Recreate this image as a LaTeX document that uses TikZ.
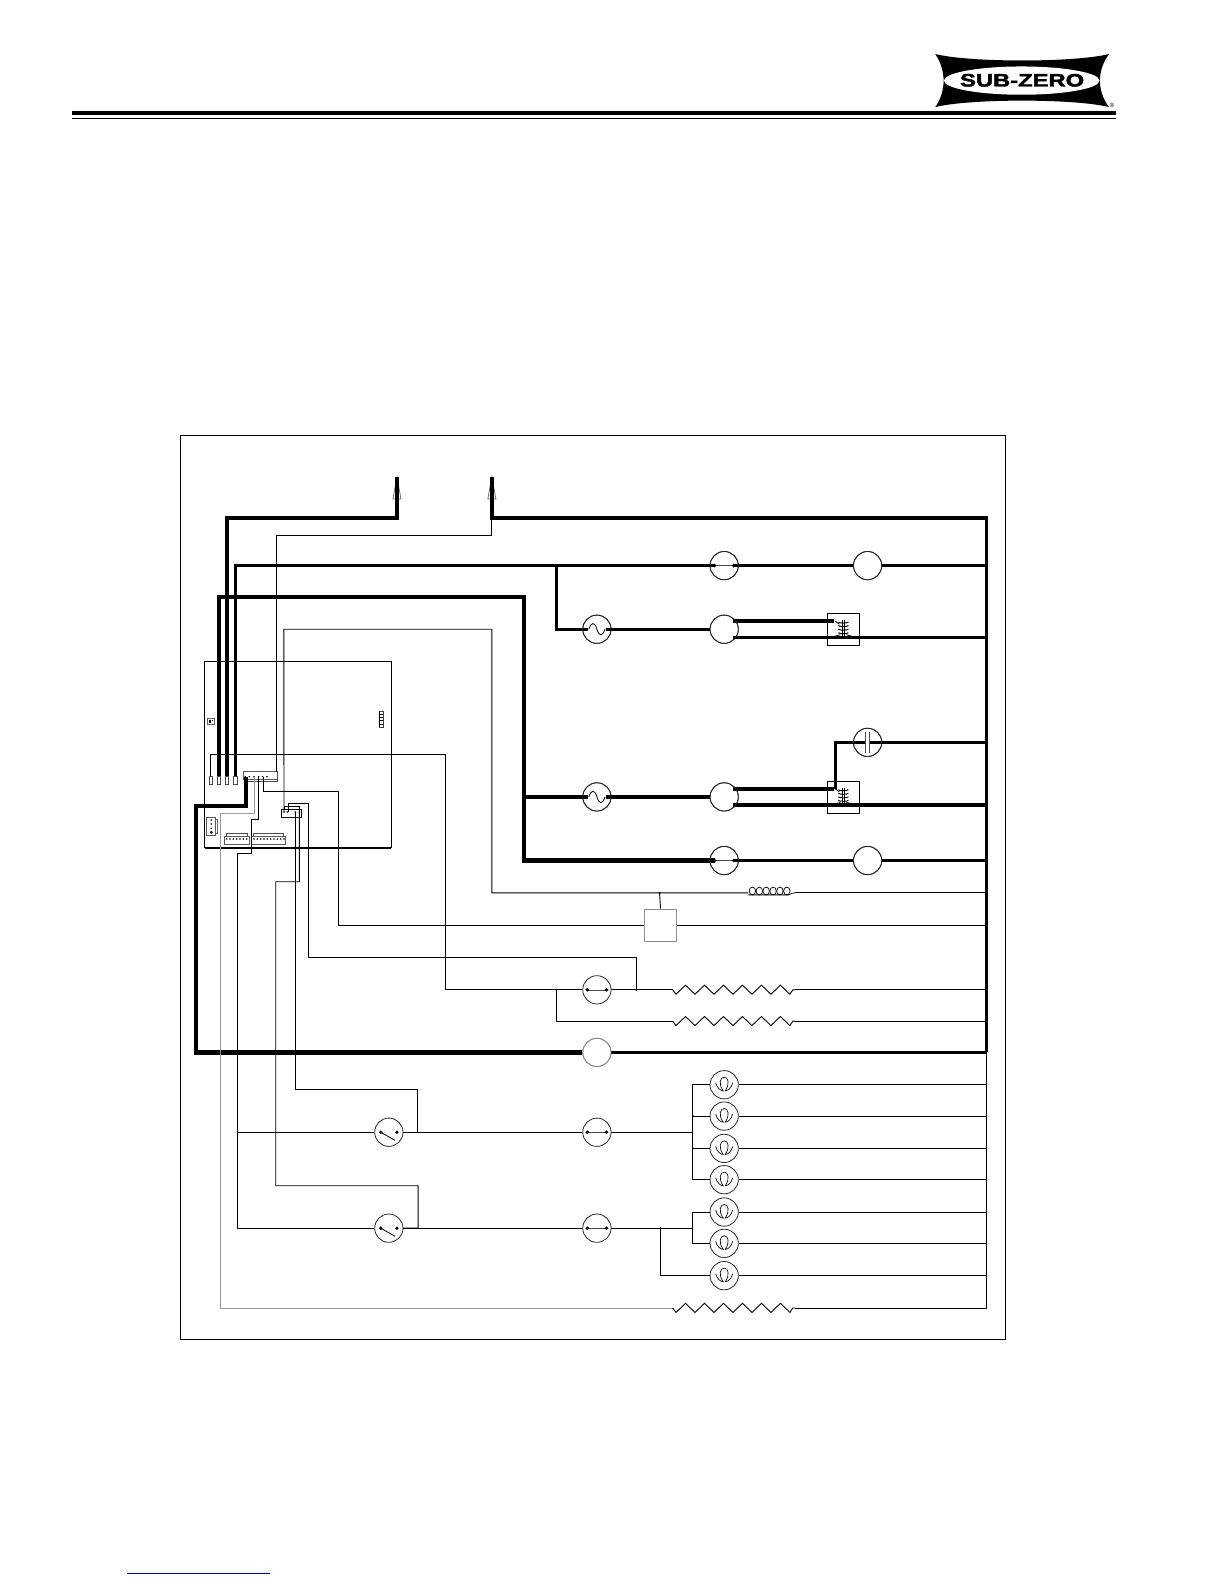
\documentclass[tikz,border=0pt]{standalone}
\usepackage{graphicx}
\usepackage{fontspec}
\setmainfont{Liberation Sans}
\newfontfamily\logofont[BoldFeatures={FakeBold=2}]{Liberation Sans}
\tikzset{
  wire/.style={line width=0.9pt,black,line join=miter},
  heavy/.style={line width=3.4pt,black,line join=miter},
  heavier/.style={line width=4.2pt,black,line join=miter},
  graywire/.style={line width=0.9pt,black!40},
  part/.style={circle,draw=black!85,line width=0.8pt,fill=white,minimum size=28.3pt,inner sep=0pt},
  relaybox/.style={rectangle,draw=black,line width=0.8pt,fill=white,minimum size=32pt,inner sep=0pt},
  termblock/.style={rectangle,draw=black!70,line width=0.7pt,fill=white,minimum width=3.5pt,minimum height=8pt,inner sep=0pt},
  lampsym/.pic={
    \draw[line width=0.65pt] (-8.5,-2) .. controls (-7,3) and (-4,6) .. (-1,6)
      .. controls (-6,-1) and (-4,-7.5) .. (0,-7.5) .. controls (4,-7.5) and (6,-1) .. (1,6)
      .. controls (4,6) and (7,3) .. (8.5,-2);
  },
  dotsym/.pic={
    \draw[line width=0.45pt,black!70] (-9.5,0) -- (9.5,0);
    \fill (-9.5,0) circle[radius=1.9]; \fill (9.5,0) circle[radius=1.9];
  },
  sinesym/.pic={
    \draw[line width=0.8pt] (-8,0) .. controls (-5.5,-7.5) and (-2.2,-7.5) .. (0,0) .. controls (2.2,7.5) and (5.5,7.5) .. (8,0);
  },
  switchsym/.pic={
    \fill (-8,0) circle[radius=1.8]; \fill (8,0) circle[radius=1.8];
    \draw[line width=0.8pt] (-8,0) -- (6,8);
  },
  capsym/.pic={
    \draw[line width=0.7pt,black!70] (-1.9,-10.5) -- (-1.9,10.5);
    \draw[line width=0.7pt,black!70] (1.9,-10.5) -- (1.9,10.5);
  },
  relaysym/.pic={
    \draw[line width=0.9pt] (-1,-9) -- (-1,8);
    \draw[line width=0.9pt] (1,-9) -- (1,8);
    \foreach \yy in {-7,-3.5,0,3.5} {\draw[line width=1pt] (-5,\yy) .. controls (-3,\yy+1.2) and (3,\yy+1.2) .. (5,\yy);}
    \draw[line width=0.9pt] (-7,8.5) -- (7,8.5);
    \draw[line width=0.8pt] (-8,-8) -- (-4,-5);
    \draw[line width=0.8pt] (-9,7) -- (-3,5.5);
    \draw[line width=0.8pt] (9,7) -- (3,5.5);
  },
  zagsym/.pic={
    \draw[line width=0.9pt] (0,0) -- (3.3,4.4) -- (12.7,-4.6) -- (22.1,4.4) -- (31.5,-4.6) -- (40.9,4.4) -- (50.3,-4.6) -- (59.7,4.4) -- (69.1,-4.6) -- (78.5,4.4) -- (87.9,-4.6) -- (97.3,4.4) -- (106.7,-4.6) -- (116.1,4.4) -- (119,0) -- (121,0);
  },
  coilsym/.pic={
    \foreach \k in {0,...,5} {\draw[line width=0.7pt] (4+\k*6.8,-1.8) ellipse[x radius=3.2,y radius=3.9];}
    \draw[line width=0.8pt] (0,2) -- (40,2) -- (43,0.5) -- (46,0);
  },
  plugsym/.pic={
    \draw[black!60,line width=0.7pt] (0,0) -- (-4,22) -- (4,22) -- cycle;
  },
  jdot/.style={circle,fill=black,inner sep=0pt,minimum size=2.2pt},
}
\begin{document}
\begin{tikzpicture}[x=1.01pt,y=-1.01pt]
\useasboundingbox (0,0) rectangle (1211.88,1568.3);

% header rules
\coordinate (ruleL) at (71,112);
\coordinate (ruleR) at (1105,112);
\draw[line width=4pt] (ruleL) -- (ruleR);
\draw[line width=0.9pt] (71,117) -- (1105,117);

% logo
\fill[black] (926,53.5) .. controls (960,62) and (1064,62) .. (1098,53.5)
  .. controls (1086,70) and (1086,90) .. (1098,106)
  .. controls (1064,97.5) and (960,97.5) .. (926,106)
  .. controls (937,90) and (937,70) .. cycle;
\fill[white] (1011.6,79.8) ellipse[x radius=77,y radius=14];
\node[inner sep=0pt,font=\logofont\fontsize{18pt}{18pt}\selectfont\bfseries] (logotext) at (1012,79.5) {\scalebox{1.32}[1]{SUB-ZERO}};
\node[inner sep=0pt,font=\fontsize{6pt}{6pt}\selectfont] (logoreg) at (1101,104) {®};

% frame
\node[rectangle,draw=black,line width=0.8pt,minimum width=825pt,minimum height=904pt,inner sep=0pt,anchor=north west] (frame) at (178.5,430.5) {};

% footer link rule
\draw[blue!75!black,line width=0.8pt] (126,1558) -- (267,1558);

% named parts positions
\coordinate (plugA) at (393,472);
\coordinate (plugB) at (487,472);
\coordinate (busTop) at (977,513);
\coordinate (busMid) at (977,1042);
\coordinate (busEnd) at (977,1295);

\node[part] (m1) at (717,560) {};
\node[part] (m2) at (859,560) {};
\node[part] (s1) at (591,623) {};
\node[part] (m3) at (717,623) {};
\node[relaybox] (r1) at (835,623) {};
\node[part] (cap) at (859,735) {};
\node[part] (s2) at (591,789) {};
\node[part] (m4) at (717,789) {};
\node[relaybox] (r2) at (835,789) {};
\node[part] (m5) at (717,852) {};
\node[part] (m6) at (859,852) {};
\node[part] (d1) at (591,980) {};
\node[part,draw=black!45] (d2) at (591,1042) {};
\node[part] (d3) at (591,1121) {};
\node[part] (d4) at (591,1216) {};
\node[part] (sw1) at (385,1121) {};
\node[part] (sw2) at (385,1216) {};
\foreach \n/\yy in {1/1074,2/1105,3/1137,4/1168,5/1200,6/1231,7/1263} {
  \node[part] (L\n) at (717,\yy) {};
}
\node[rectangle,draw=black!45,line width=1.3pt,fill=white,minimum size=32pt,inner sep=0pt] (ctl) at (654,916) {};

% board details (coordinates as read in a 3x crop)
\begin{scope}[shift={(180pt,-640pt)},x=0.3333pt,y=-0.3333pt]
  \node[termblock] (t1) at (92,420) {};
  \node[termblock] (t2) at (117,420) {};
  \node[termblock] (t3) at (141,420) {};
  \node[termblock] (t4) at (166,420) {};
  \coordinate (pA1) at (198,410);
  \coordinate (pA3) at (224,410);
  \coordinate (pA4) at (236,410);
  \coordinate (pA5) at (250,410);
  \coordinate (pA7) at (288,395);
  \coordinate (pB1) at (312,516);
  \coordinate (pB2) at (325,516);
  \coordinate (pB3) at (347,516);
  \coordinate (pB4) at (358,516);
  \coordinate (zHeavy) at (47,498);
  \coordinate (zGray) at (122,520);
  \coordinate (zK) at (214,538);
  \coordinate (zL) at (172,640);
  \coordinate (zR) at (385,490);
  \coordinate (zM) at (475,455);
  \coordinate (zT) at (92,343);
  \coordinate (boardNW) at (74,65);
  \coordinate (boardNE) at (634,65);
  \coordinate (boardSE) at (634,623);
  \coordinate (boardSW) at (74,623);
  % top connector
  \draw[black!65,line width=1pt] (190,395) rectangle (293,417);
  \draw[black!70,line width=0.7pt] (293,395) -- (293,425) -- (205,425);
  \foreach \zx in {196,208,222,236,248,261} {\fill (\zx,410) circle[radius=2.6];}
  % right connector
  \draw[line width=0.8pt,fill=white] (304,508) rectangle (365,532);
  \foreach \zx in {312,322,346,358} {\fill (\zx,516) circle[radius=2.6];}
  % left connector
  \draw[black!65,line width=1pt] (79,533) rectangle (105,585);
  \draw[black!60,line width=0.7pt] (105,538) -- (112,538) -- (112,580) -- (105,580);
  \foreach \zy in {540,552,565} {\fill (94,\zy) circle[radius=2.6];}
  \draw[line width=0.8pt] (94,577) circle[radius=3];
  % bottom connectors
  \draw[black!65,line width=1pt] (134,590) rectangle (208,612);
  \draw[black!70,line width=0.7pt] (140,590) -- (140,580) -- (203,580) -- (203,590);
  \foreach \zx in {140,150,160,170,180,190,200} {\fill (\zx,597) circle[radius=2.6];}
  \draw[black!65,line width=1pt] (216,590) rectangle (316,612);
  \draw[black!70,line width=0.7pt] (221,590) -- (221,580) -- (310,580) -- (310,590);
  \foreach \zx in {222,232,242,252,262,272,282,292,302,312} {\fill (\zx,597) circle[radius=2.6];}
  % small parts
  \draw[black!60,line width=0.8pt] (81,235) rectangle (103,252);
  \fill (87,239) rectangle (92,248);
  \fill (95,239) rectangle (100,243);
  \draw[line width=0.8pt,black!75] (597,214) -- (611,214) -- (611,262) -- (597,262);
  \foreach \zy in {222,232,242,252} {\draw[line width=0.9pt] (599,\zy) -- (609,\zy);}
  \draw[line width=0.8pt] (597,214) -- (597,262);
\end{scope}

% board outline
\draw[wire] (boardSW) -- (boardNW) -- (boardNE) -- (boardSE);
\draw[line width=1.8pt] (boardSE) -- (boardSW);

% plug symbols
\pic at (plugA) {plugsym};
\pic at (plugB) {plugsym};

% heavy wires
\draw[heavy] (plugA) -- (393,513) -| (t3.north);
\draw[heavy] (plugB) -- (487,513) -- (busTop) -- (busMid);
\draw[heavy] (t4.north) |- ([xshift=-9.6pt]m1.center);
\draw[heavy] ([xshift=9.6pt]m1.center) -- (m2.west);
\draw[heavy] (m2.east) -- (977,560);
\draw[heavy] (551,560) |- ([xshift=-9pt]s1.center);
\draw[heavy] ([xshift=9pt]s1.center) -- (m3.west);
\draw[heavy] (726,615) -- (826,615);
\draw[heavy] (726,631) -- (977,631);
\draw[heavier] (t2.north) |- (519,591) |- ([xshift=-9.6pt]m5.center);
\draw[heavy] ([xshift=9.6pt]m5.center) -- (m6.west);
\draw[heavy] (m6.east) -- (977,852);
\draw[heavy] (519,789) -- ([xshift=-9pt]s2.center);
\draw[heavy] ([xshift=9pt]s2.center) -- (m4.west);
\draw[heavy] (726,781) -- (826,781);
\draw[heavy] (726,797) -- (977,797);
\draw[heavy] (827,781) |- ([xshift=-1.9pt]cap.center);
\draw[heavy] ([xshift=1.9pt]cap.center) -- (977,735);
\draw[heavier] (pA1) |- (zHeavy) |- (d2.west);
\draw[heavy] (d2.east) -- (busMid);

% parts drawn again on top of the heavy wires
\foreach \q in {m1,m2,s1,m3,cap,s2,m4,m5,m6} {
  \draw[black!85,line width=0.8pt] (\q) circle[radius=14];
}
\draw[black!45,line width=0.8pt] (d2) circle[radius=14];

% thin wires
\draw[wire] (busMid) -- (busEnd);
\draw[wire] (487,513) -- (487,530) -| (pA7);
\draw[wire] (pB1) -- (281,623) -- (487,623) |- (741,884);
\draw[wire] (787,884) -- (977,884);
\draw[wire] (653,884) -- (ctl.north);
\draw[wire] (pA5) |- (zM) |- (ctl.west);
\draw[wire] (ctl.east) -- (977,916);
\draw[wire] (t1.north) |- (441,746.9) |- (d1.west);
\draw[wire] (d1.east) -- (666,980);
\draw[wire] (787,980) -- (977,980);
\draw[wire] (551,980) |- (666,1011);
\draw[wire] (787,1011) -- (977,1011);
\draw[wire] (630,980) -- (630,948) -| (zR) -| (pB2);
\draw[wire] (pB1 |- 0,801) -- +(0,-2.5) -| (pB4);
\draw[wire] (pB4) -- (296.4,873) -- (273,873) |- (414,1174) |- (sw2.east);
\draw[wire] (pB3) |- (413,1079) |- (sw1.east);
\draw[wire] (pA4) |- (zK) |- (zL) |- (sw2.west);
\draw[wire] (zL |- sw1.west) -- (sw1.west);
\draw[graywire] (pA3) |- (zGray) |- (666,1295);
\draw[wire] (787,1295) -- (busEnd);
\draw[wire] (sw1.east) -- (d3.west);
\draw[wire] (sw2.east) -- (d4.west);
\draw[wire] (d3.east) -- (686,1121);
\draw[wire] (d4.east) -- (686,1216);
\draw[wire] (L1.west) -| (686,1168) -- (L4.west);
\draw[wire] (686,1105) -- (L2.west);
\draw[wire] (686,1137) -- (L3.west);
\draw[wire] (L5.west) -| (686,1231) -- (L6.west);
\draw[wire] (654,1216) |- (L7.west);
\foreach \n in {1,...,7} {\draw[wire] (L\n.east) -- (977,0 |- L\n);}

% junction dots
\node[jdot] (j1) at (686,1105) {};
\node[jdot] (j2) at (686,1137) {};
\node[jdot] (j3) at (654,1216) {};
\node[jdot] (j4) at (551,980) {};
\node[jdot] (j5) at (653,884) {};
\node[jdot] (j6) at (630,980) {};

% symbols
\foreach \q in {m1,m5,d1,d3,d4} {\pic at (\q) {dotsym};}
\foreach \q in {s1,s2} {\pic at (\q) {sinesym};}
\foreach \q in {sw1,sw2} {\pic at (\q) {switchsym};}
\foreach \n in {1,...,7} {\pic at (L\n) {lampsym};}
\pic at (cap) {capsym};
\pic at (r1) {relaysym};
\pic at (r2) {relaysym};
\pic at (666,980) {zagsym};
\pic at (666,1011) {zagsym};
\pic at (666,1295) {zagsym};
\pic at (741,884) {coilsym};
\end{tikzpicture}
\end{document}
